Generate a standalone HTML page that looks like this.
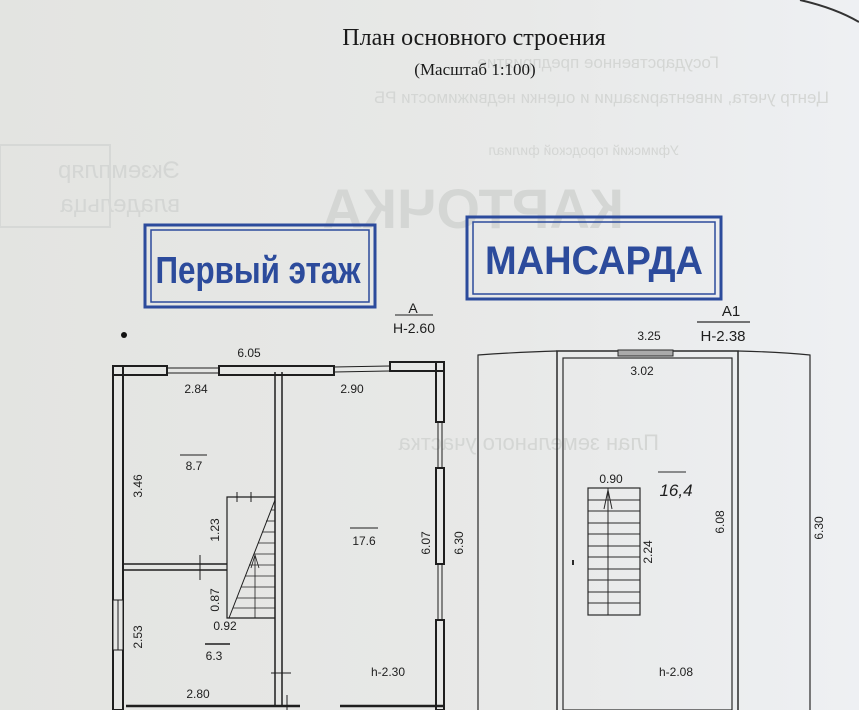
<!DOCTYPE html>
<html><head><meta charset="utf-8"><style>
html,body{margin:0;padding:0;width:859px;height:710px;overflow:hidden;background:#e6e7e5}
svg{display:block}
</style></head><body>
<svg width="859" height="710" viewBox="0 0 859 710" xmlns="http://www.w3.org/2000/svg" font-family="Liberation Sans, sans-serif">
<defs>
<linearGradient id="bg" x1="0" x2="1" y1="0" y2="0">
<stop offset="0" stop-color="#e3e4e1"/><stop offset="0.6" stop-color="#e8e9e8"/><stop offset="1" stop-color="#eef0f3"/>
</linearGradient>
</defs>
<rect width="859" height="710" fill="url(#bg)"/>
<path d="M800 0 Q835 8 859 22" stroke="#333" stroke-width="2" fill="none"/>
<!-- faint background stamps (mirrored) -->
<g fill="#d4d6d4" transform="translate(859,0) scale(-1,1)">
<text x="30" y="103" font-size="17">Центр учета, инвентаризации и оценки недвижимости РБ</text>
<text x="140" y="68" font-size="17">Государственное предприятие</text>
<text x="180" y="155" font-size="14">Уфимский городской филиал</text>
<text x="235" y="228" font-size="56" font-weight="bold">КАРТОЧКА</text>
<text x="200" y="450" font-size="22">План земельного участка</text>
<text x="679" y="178" font-size="24">Экземпляр</text>
<text x="679" y="212" font-size="24">владельца</text>
</g>
<rect x="0" y="145" width="110" height="82" fill="none" stroke="#d6d8d6" stroke-width="2"/>
<!-- title -->
<text x="474" y="45" style="font-family:'Liberation Serif',serif" font-size="24" text-anchor="middle" fill="#1a1a1a">План основного строения</text>
<text x="475" y="75" style="font-family:'Liberation Serif',serif" font-size="17" text-anchor="middle" fill="#1a1a1a">(Масштаб 1:100)</text>
<!-- blue stamps -->
<g fill="none" stroke="#2c4b9c">
<rect x="145" y="225" width="230" height="82" stroke-width="3"/>
<rect x="151" y="230" width="218" height="72" stroke-width="1.5"/>
<rect x="467" y="217" width="254" height="82" stroke-width="3"/>
<rect x="473" y="222" width="242" height="72" stroke-width="1.5"/>
</g>
<text x="258" y="283" font-size="38" font-weight="bold" fill="#2c4b9c" text-anchor="middle" textLength="205" lengthAdjust="spacingAndGlyphs">Первый  этаж</text>
<text x="594" y="274" font-size="40" font-weight="bold" fill="#2c4b9c" text-anchor="middle" textLength="218" lengthAdjust="spacingAndGlyphs">МАНСАРДА</text>

<!-- FIRST FLOOR -->
<g stroke="#1e1e1e" fill="none">
<rect x="113" y="366" width="10" height="344" fill="#e6e7e5" stroke-width="2"/>
<rect x="113" y="366" width="54" height="9" stroke-width="2"/>
<rect x="219" y="366" width="115" height="9" stroke-width="2"/>
<rect x="390" y="362" width="54" height="9" stroke-width="2"/>
<line x1="167" y1="368" x2="219" y2="368" stroke-width="1"/><line x1="167" y1="373" x2="219" y2="373" stroke-width="1"/>
<line x1="334" y1="367" x2="390" y2="366" stroke-width="1"/><line x1="334" y1="372" x2="390" y2="371" stroke-width="1"/>
<rect x="436" y="362" width="8" height="60" stroke-width="2"/>
<rect x="436" y="468" width="8" height="96" stroke-width="2"/>
<rect x="436" y="620" width="8" height="90" stroke-width="2"/>
<line x1="438" y1="422" x2="438" y2="468" stroke-width="1"/><line x1="442" y1="422" x2="442" y2="468" stroke-width="1"/>
<line x1="438" y1="564" x2="438" y2="620" stroke-width="1"/><line x1="442" y1="564" x2="442" y2="620" stroke-width="1"/>
<rect x="113" y="600" width="10" height="50" fill="#e6e7e5" stroke-width="1"/>
<line x1="118" y1="600" x2="118" y2="650" stroke-width="1"/>
<line x1="126" y1="706" x2="300" y2="706" stroke-width="2.5"/>
<line x1="340" y1="706" x2="444" y2="706" stroke-width="2.5"/>
<line x1="275" y1="372" x2="275" y2="706" stroke-width="1.5"/>
<line x1="282" y1="372" x2="282" y2="706" stroke-width="1.5"/>
<line x1="123" y1="564" x2="227" y2="564" stroke-width="1.5"/>
<line x1="123" y1="570" x2="227" y2="570" stroke-width="1.5"/>
<line x1="200" y1="555" x2="200" y2="580" stroke-width="1"/>
<line x1="271" y1="673" x2="291" y2="673" stroke-width="1"/>
<line x1="287" y1="695" x2="287" y2="710" stroke-width="1"/>
<path d="M275 497 H227 V618 H275" stroke-width="1.2"/>
<line x1="237" y1="492" x2="237" y2="502" stroke-width="1"/><line x1="251" y1="492" x2="251" y2="502" stroke-width="1"/>
<line x1="229" y1="618" x2="275" y2="500" stroke-width="1"/>
<g stroke-width="0.8">
<line x1="271" y1="510" x2="275" y2="510"/><line x1="266" y1="521" x2="275" y2="521"/><line x1="262" y1="532" x2="275" y2="532"/><line x1="258" y1="543" x2="275" y2="543"/><line x1="254" y1="554" x2="275" y2="554"/><line x1="249" y1="565" x2="275" y2="565"/><line x1="245" y1="576" x2="275" y2="576"/><line x1="241" y1="587" x2="275" y2="587"/><line x1="237" y1="598" x2="275" y2="598"/><line x1="233" y1="608" x2="275" y2="608"/>
<line x1="255" y1="555" x2="255" y2="618"/><path d="M251 568 L255 555 L259 568"/>
</g>
<line x1="205" y1="644" x2="230" y2="644" stroke-width="1.5"/>
<line x1="180" y1="455" x2="207" y2="455" stroke-width="1"/>
<line x1="350" y1="528" x2="378" y2="528" stroke-width="1"/>
<line x1="395" y1="315" x2="433" y2="315" stroke-width="1"/>
</g>
<g font-size="12" fill="#1e1e1e">
<text x="249" y="357" text-anchor="middle">6.05</text>
<text x="196" y="393" text-anchor="middle">2.84</text>
<text x="352" y="393" text-anchor="middle">2.90</text>
<text x="194" y="470" text-anchor="middle">8.7</text>
<text x="364" y="545" text-anchor="middle">17.6</text>
<text x="225" y="630" text-anchor="middle">0.92</text>
<text x="214" y="660" text-anchor="middle">6.3</text>
<text x="388" y="676" text-anchor="middle">h-2.30</text>
<text x="198" y="698" text-anchor="middle">2.80</text>
<text transform="translate(142,486) rotate(-90)" text-anchor="middle">3.46</text>
<text transform="translate(219,530) rotate(-90)" text-anchor="middle">1.23</text>
<text transform="translate(219,600) rotate(-90)" text-anchor="middle">0.87</text>
<text transform="translate(142,637) rotate(-90)" text-anchor="middle">2.53</text>
<text transform="translate(430,543) rotate(-90)" text-anchor="middle">6.07</text>
<text transform="translate(463,543) rotate(-90)" text-anchor="middle">6.30</text>
<text x="413" y="313" text-anchor="middle" font-size="14">A</text>
<text x="414" y="333" text-anchor="middle" font-size="14">H-2.60</text>
</g>
<circle cx="124" cy="335" r="3" fill="#111"/>

<!-- MANSARDA -->
<g stroke="#2a2a2a" fill="none">
<path d="M478 710 V355 Q520 352 557 351" stroke-width="1.2"/>
<path d="M738 351 Q780 352 810 355 V710" stroke-width="1.2"/>
<rect x="557" y="351" width="181" height="365" stroke-width="1.5"/>
<rect x="563" y="358" width="169" height="352" stroke-width="1.2"/>
<rect x="618" y="350" width="55" height="6" fill="#aaa" stroke-width="1"/>
<rect x="588" y="488" width="52" height="127" stroke-width="1.2"/>
<g stroke-width="1">
<line x1="588" y1="500" x2="640" y2="500"/><line x1="588" y1="511" x2="640" y2="511"/><line x1="588" y1="523" x2="640" y2="523"/><line x1="588" y1="534" x2="640" y2="534"/><line x1="588" y1="546" x2="640" y2="546"/><line x1="588" y1="557" x2="640" y2="557"/><line x1="588" y1="569" x2="640" y2="569"/><line x1="588" y1="580" x2="640" y2="580"/><line x1="588" y1="592" x2="640" y2="592"/><line x1="588" y1="603" x2="640" y2="603"/>
<line x1="608" y1="488" x2="608" y2="615"/><path d="M604 509 L608 490 L612 509"/>
</g>
<line x1="658" y1="472" x2="686" y2="472" stroke-width="1"/>
<line x1="697" y1="322" x2="750" y2="322" stroke-width="1.2"/>
<line x1="573" y1="560" x2="573" y2="565" stroke-width="2"/>
</g>
<g font-size="12" fill="#1e1e1e">
<text x="649" y="340" text-anchor="middle">3.25</text>
<text x="642" y="375" text-anchor="middle">3.02</text>
<text x="611" y="483" text-anchor="middle">0.90</text>
<text x="676" y="676" text-anchor="middle">h-2.08</text>
<text transform="translate(652,552) rotate(-90)" text-anchor="middle">2.24</text>
<text transform="translate(724,522) rotate(-90)" text-anchor="middle">6.08</text>
<text transform="translate(823,528) rotate(-90)" text-anchor="middle">6.30</text>
<text x="731" y="316" text-anchor="middle" font-size="15">A1</text>
<text x="723" y="341" text-anchor="middle" font-size="15">H-2.38</text>
<text x="676" y="496" text-anchor="middle" font-size="17" font-style="italic">16,4</text>
</g>
</svg>
</body></html>
